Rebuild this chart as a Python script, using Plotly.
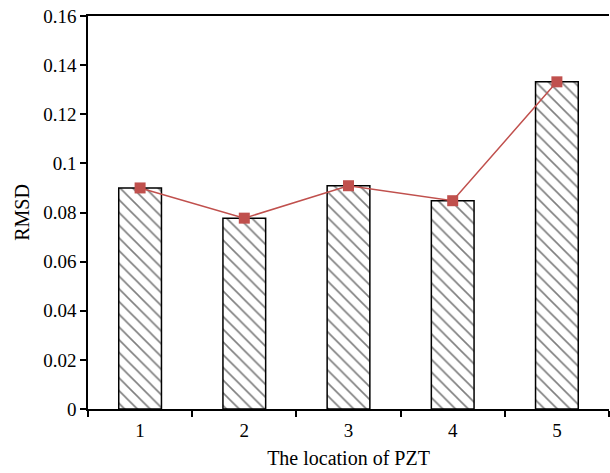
import plotly.graph_objects as go

locations = ["1", "2", "3", "4", "5"]
rmsd = [0.090, 0.0777, 0.0909, 0.0848, 0.1332]
y_ticks = [0, 0.02, 0.04, 0.06, 0.08, 0.1, 0.12, 0.14, 0.16]
y_tick_labels = ["0", "0.02", "0.04", "0.06", "0.08", "0.1", "0.12", "0.14", "0.16"]

font_family = "Liberation Serif"

fig = go.Figure()
fig.add_trace(go.Bar(
    x=locations, y=rmsd, width=0.41,
    marker=dict(color="white",
                line=dict(color="black", width=1.5),
                pattern=dict(shape="\\", fgcolor="black", bgcolor="white",
                             size=9, solidity=0.18)),
    showlegend=False,
))
fig.add_trace(go.Scatter(
    x=locations, y=rmsd, mode="lines+markers",
    line=dict(color="#c0504d", width=1.5),
    marker=dict(symbol="square", size=11, color="#c0504d"),
    showlegend=False,
))

fig.update_layout(
    width=610, height=473,
    margin=dict(l=88, r=1, t=16, b=64),
    plot_bgcolor="white", paper_bgcolor="white",
    font=dict(family=font_family, size=19, color="black"),
    xaxis=dict(
        type="category", tickson="boundaries", ticks="outside", ticklen=6,
        tickwidth=1.5, tickcolor="black",
        showline=True, linecolor="black", linewidth=1.5, mirror=True,
        showgrid=False, range=[-0.5, 4.5],
        title=dict(text="The location of PZT",
                   font=dict(family=font_family, size=20), standoff=11),
        tickfont=dict(family=font_family, size=19, color="black"),
        ticklabelstandoff=3,
    ),
    yaxis=dict(
        range=[0, 0.16], tickvals=y_ticks, ticktext=y_tick_labels,
        ticks="outside", ticklen=6, tickwidth=1.5, tickcolor="black",
        showline=True, linecolor="black", linewidth=1.5,
        showgrid=False, zeroline=False,
        title=dict(text="RMSD", font=dict(family=font_family, size=20), standoff=8),
        tickfont=dict(family=font_family, size=19, color="black"),
    ),
)

fig.write_html("out.html")
